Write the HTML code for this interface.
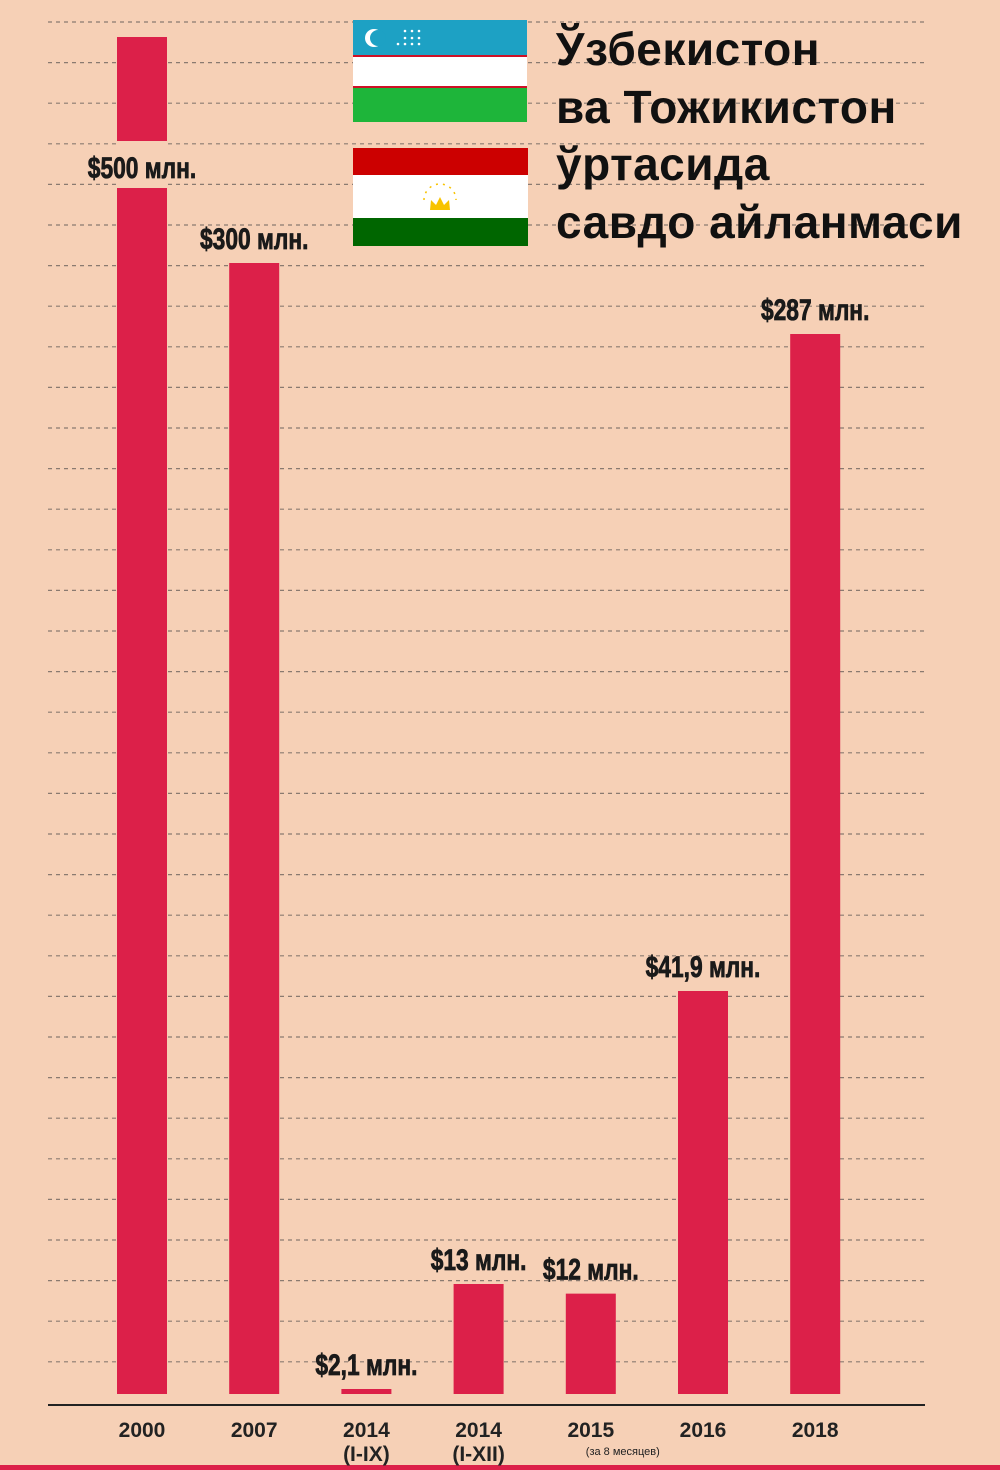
<!DOCTYPE html>
<html><head><meta charset="utf-8">
<style>
body{margin:0;background:#f6d0b6;}
#wrap{position:relative;width:1000px;height:1470px;overflow:hidden;background:#f6d0b6;font-family:"Liberation Sans",sans-serif;}
.title{position:absolute;left:556px;top:21px;font-size:46px;font-weight:bold;line-height:57.5px;color:#111;letter-spacing:0.5px;}
</style></head><body>
<div id="wrap">
<svg id="chart" width="1000" height="1470" style="position:absolute;left:0;top:0"></svg>
<div class="title">Ўзбекистон<br>ва Тожикистон<br>ўртасида<br>савдо айланмаси</div>
<svg width="1000" height="260" style="position:absolute;left:0;top:0">
<g>
<rect x="353" y="20" width="174" height="35" fill="#1da1c4"/>
<rect x="353" y="55" width="174" height="2" fill="#ce1126"/>
<rect x="353" y="57" width="174" height="29" fill="#fff"/>
<rect x="353" y="86" width="174" height="2" fill="#ce1126"/>
<rect x="353" y="88" width="174" height="34" fill="#1eb53a"/>
<circle cx="374" cy="38" r="9" fill="#fff"/><circle cx="378" cy="38" r="8" fill="#1da1c4"/>
<g fill="#fff"><circle cx="405" cy="38" r="1.3"/><circle cx="412" cy="38" r="1.3"/><circle cx="419" cy="38" r="1.3"/><circle cx="398" cy="44" r="1.3"/><circle cx="405" cy="44" r="1.3"/><circle cx="412" cy="44" r="1.3"/><circle cx="419" cy="44" r="1.3"/><circle cx="412" cy="31" r="1.3"/><circle cx="419" cy="31" r="1.3"/><circle cx="405" cy="31" r="1.3"/></g>
</g>
<g>
<rect x="353" y="148" width="175" height="27" fill="#cc0000"/>
<rect x="353" y="175" width="175" height="43" fill="#fff"/>
<rect x="353" y="218" width="175" height="28" fill="#006600"/>
<path d="M430 210 L431 200 L436 205 L440 197 L444 205 L449 200 L450 210 Z" fill="#f8c300"/>
<path d="M424 200 A16 16 0 0 1 456 200" fill="none" stroke="#f8c300" stroke-width="1.5" stroke-dasharray="2 5"/>
</g>
</svg>
</div>
<script>
const categories=["2000","2007","2014","2014","2015","2016","2018"];
const subLabels=["","","(I-IX)","(I-XII)","(за 8 месяцев)","",""];
const values=[500,300,2.1,13,12,41.9,287];
const valueLabels=["$500 млн.","$300 млн.","$2,1 млн.","$13 млн.","$12 млн.","$41,9 млн.","$287 млн."];
const svg=document.getElementById('chart');
const NS="http://www.w3.org/2000/svg";
function mk(t,a){const e=document.createElementNS(NS,t);for(const k in a)e.setAttribute(k,a[k]);svg.appendChild(e);return e;}
// non-linear (not-to-scale) value axis, as in the original infographic
const dom=[0,2.1,13,41.9,287,300,500];
const rng=[0,5,110,403,1060,1131,1357];
function yScale(v){let h=0;for(let i=1;i<dom.length;i++){if(v<=dom[i]||i==dom.length-1){const t=(v-dom[i-1])/(dom[i]-dom[i-1]);h=rng[i-1]+t*(rng[i]-rng[i-1]);break;}}return 1394-h;}
function xScale(i){return 142+i*112.2;}
for(let k=0;k<34;k++){const y=22+k*40.6;
const l=mk('line',{x1:48,x2:925,y1:y,y2:y,stroke:'#8a7a70','stroke-width':1.2,'stroke-dasharray':'4 4'});

}
const ax=mk('line',{x1:48,x2:925,y1:1405,y2:1405,stroke:'#222','stroke-width':2});


const bl=mk('rect',{x:0,y:1465,width:1000,height:5,fill:'#dc2049'});


values.forEach((v,i)=>{
 const cx=xScale(i),y=yScale(v);
 const b=mk('rect',{x:cx-25,y:y,width:50,height:1394-y,fill:'#dc2049'});
 
 
 let ly=y-14;
 if(i===0){const g=mk('rect',{x:cx-26,y:141,width:52,height:47,fill:'#f6d0b6'});
  
  ly=178;}
 const t=mk('text',{x:cx,y:ly,'text-anchor':'middle','font-size':30,'font-weight':'bold',fill:'#1a1a1a',stroke:'#1a1a1a','stroke-width':0.8,transform:`translate(${cx},0) scale(0.76,1) translate(${-cx},0)`});
 t.textContent=valueLabels[i];
 
 
 const c=mk('text',{x:cx,y:1437,'text-anchor':'middle','font-size':21,'font-weight':'bold',fill:'#222'});
 c.textContent=categories[i];
 
 
 if(subLabels[i]){const s=mk('text',{x:cx+(i===4?32:0),y:i===4?1455:1461,'text-anchor':'middle','font-size':i===4?11:21,'font-weight':i===4?'normal':'bold',fill:'#222'});
 s.textContent=subLabels[i];
 
 }
});
</script>
</body></html>
